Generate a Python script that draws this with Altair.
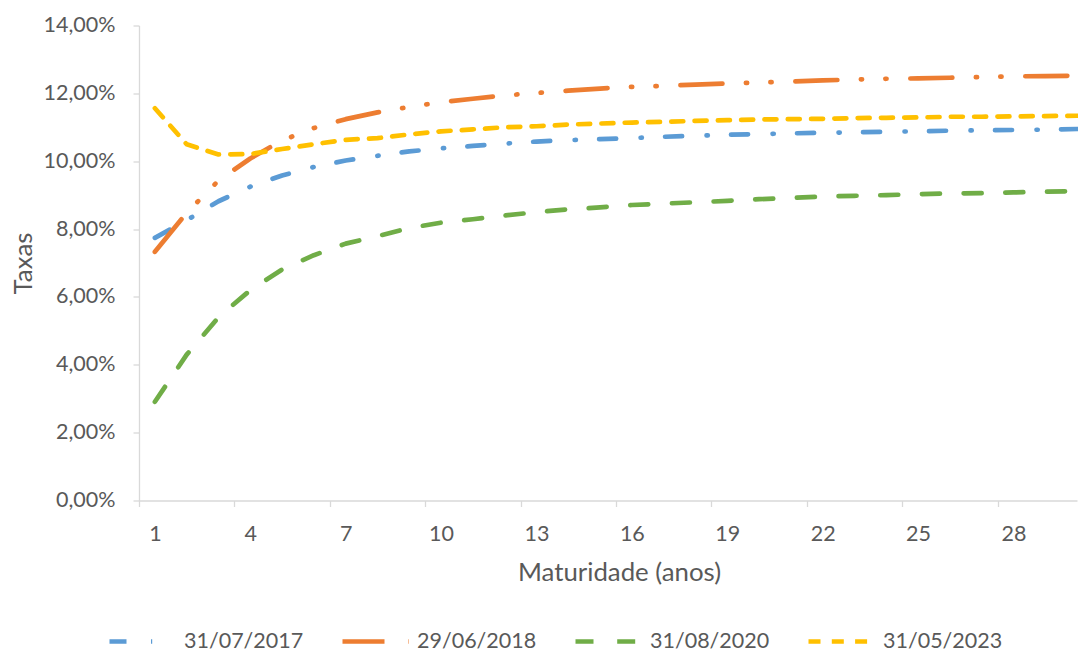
import altair as alt
import pandas as pd

maturidade = list(range(1, 31))
series = ["31/07/2017", "29/06/2018", "31/08/2020", "31/05/2023"]

taxa_2017 = [7.74, 8.26, 8.82, 9.25, 9.58, 9.83, 10.02, 10.16, 10.29, 10.38,
             10.45, 10.52, 10.58, 10.62, 10.65, 10.68, 10.72, 10.75, 10.78, 10.80,
             10.82, 10.84, 10.85, 10.87, 10.88, 10.90, 10.91, 10.92, 10.93, 10.95]
taxa_2018 = [7.33, 8.48, 9.43, 10.08, 10.61, 10.98, 11.24, 11.44, 11.60, 11.74,
             11.84, 11.94, 12.01, 12.08, 12.14, 12.19, 12.22, 12.26, 12.29, 12.32,
             12.35, 12.38, 12.41, 12.43, 12.44, 12.46, 12.48, 12.50, 12.51, 12.52]
taxa_2020 = [2.91, 4.30, 5.40, 6.20, 6.81, 7.23, 7.57, 7.79, 8.03, 8.19,
             8.29, 8.40, 8.50, 8.58, 8.64, 8.71, 8.75, 8.79, 8.83, 8.88,
             8.92, 8.96, 8.98, 9.00, 9.03, 9.05, 9.06, 9.08, 9.10, 9.12]
taxa_2023 = [11.56, 10.50, 10.20, 10.21, 10.36, 10.50, 10.63, 10.68, 10.79, 10.88,
             10.94, 11.00, 11.03, 11.08, 11.11, 11.14, 11.16, 11.19, 11.21, 11.23,
             11.24, 11.25, 11.27, 11.28, 11.29, 11.31, 11.31, 11.32, 11.33, 11.34]

y_ticks = [0, 2, 4, 6, 8, 10, 12, 14]
x_ticks = [1, 4, 7, 10, 13, 16, 19, 22, 25, 28]

colors = ["#5B9BD5", "#ED7D31", "#70AD47", "#FFC000"]
dashes = [[17, 24.5, 1.2, 23.3], [42, 23.5, 1.2, 23.3, 1.2, 23.8], [18, 23.7], [12, 11.3]]

rows = []
for s, vals in zip(series, [taxa_2017, taxa_2018, taxa_2020, taxa_2023]):
    for m, v in zip(maturidade, vals):
        rows.append({"mat": m, "taxa": v, "serie": s})
df = pd.DataFrame(rows)

FONT = "Lato"
TXT = "#595959"
GRID = "#D9D9D9"
W, H = 938, 475
half = W / 29.5 / 2
SYM = 66

legend = alt.Legend(
    title=None, orient="none", direction="horizontal",
    legendX=-32, legendY=639 - 25.5 - SYM / 2,
    symbolType="stroke", symbolSize=SYM * SYM, symbolStrokeWidth=4.7,
    labelFont=FONT, labelFontSize=21.5, labelColor=TXT,
    labelOffset=6, columnPadding=29, padding=0,
)

chart = alt.Chart(df).mark_line(strokeWidth=4.7, strokeCap="round", strokeJoin="round").encode(
    x=alt.X("mat:Q",
            scale=alt.Scale(domain=[0.5, 30.0], nice=False, zero=False),
            axis=alt.Axis(values=x_ticks, tickOffset=-half, labelOffset=half,
                          title="Maturidade (anos)", grid=False,
                          domainColor=GRID, domainWidth=1.3, tickColor=GRID, tickWidth=1.3,
                          tickSize=6, labelPadding=17, labelFont=FONT, labelFontSize=21.5,
                          labelColor=TXT, titleFont=FONT, titleFontSize=25.8, titleColor=TXT,
                          titleFontWeight="normal", titleX=480, titleY=72,
                          titleBaseline="middle", titleAlign="center")),
    y=alt.Y("taxa:Q",
            scale=alt.Scale(domain=[0, 14], nice=False, zero=True),
            axis=alt.Axis(values=y_ticks,
                          labelExpr="replace(format(datum.value, '.2f'), '.', ',') + '%'",
                          title="Taxas", grid=False,
                          domainColor=GRID, domainWidth=1.3, tickColor=GRID, tickWidth=1.3,
                          tickSize=6, labelPadding=18, labelFont=FONT, labelFontSize=21.5,
                          labelColor=TXT, titleFont=FONT, titleFontSize=25.8, titleColor=TXT,
                          titleFontWeight="normal", titleX=-116, titleY=H / 2,
                          titleAngle=-90, titleBaseline="middle", titleAlign="center")),
    color=alt.Color("serie:N", scale=alt.Scale(domain=series, range=colors), legend=legend),
    strokeDash=alt.StrokeDash("serie:N", scale=alt.Scale(domain=series, range=dashes), legend=legend),
    order=alt.Order("serie:N"),
).properties(
    width=W, height=H,
    autosize=alt.AutoSizeParams(type="none"),
    padding={"left": 131, "top": 17.5, "right": 1, "bottom": 150.5},
).configure_view(stroke=None)

chart.save("out.html", embed_options={"renderer": "svg", "actions": False})
